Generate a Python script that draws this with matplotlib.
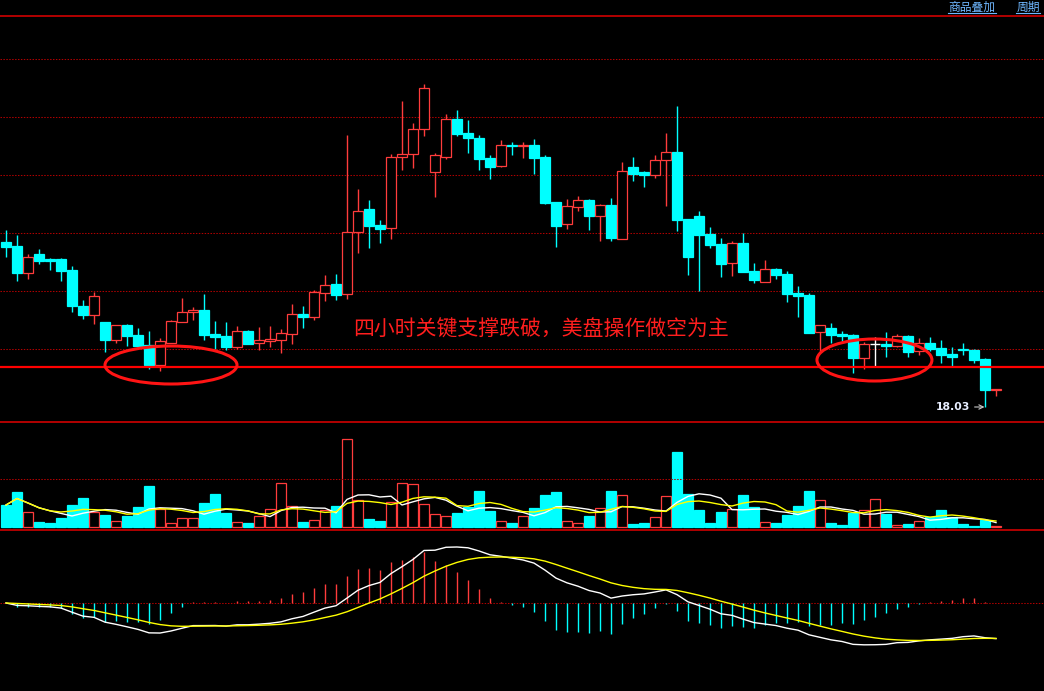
import numpy as np
import pandas as pd
import matplotlib.pyplot as plt
from matplotlib.patches import Ellipse
from matplotlib.lines import Line2D

plt.rcParams['font.family'] = ['Noto Sans CJK SC', 'DejaVu Sans']

# 4h candles
opens = [19.68, 19.64, 19.37, 19.56, 19.51, 19.51, 19.40, 19.04, 18.95, 18.88,
         18.70, 18.85, 18.75, 18.65, 18.45, 18.67, 18.88, 18.98, 19.00, 18.76,
         18.74, 18.63, 18.79, 18.67, 18.69, 18.70, 18.76, 18.96, 18.93, 19.17,
         19.26, 19.16, 19.78, 20.01, 19.85, 19.82, 20.53, 20.56, 20.81, 20.38,
         20.53, 20.91, 20.77, 20.72, 20.52, 20.44, 20.65, 20.64, 20.65, 20.53,
         20.08, 19.86, 20.03, 20.10, 19.94, 20.05, 19.71, 20.43, 20.38, 20.35,
         20.50, 20.58, 19.91, 19.94, 19.76, 19.66, 19.47, 19.67, 19.39, 19.28,
         19.41, 19.36, 19.17, 19.15, 18.78, 18.82, 18.76, 18.75, 18.52, 18.66,
         18.66, 18.64, 18.74, 18.59, 18.67, 18.62, 18.56, 18.61, 18.60, 18.51,
         18.20]
highs = [19.80, 19.75, 19.56, 19.61, 19.52, 19.52, 19.44, 19.10, 19.18, 18.88,
         18.85, 18.86, 18.82, 18.79, 18.72, 18.90, 19.12, 19.03, 19.16, 18.89,
         18.88, 18.84, 18.80, 18.83, 18.84, 18.81, 19.06, 19.04, 19.20, 19.35,
         19.36, 20.75, 20.21, 20.10, 19.90, 20.56, 21.09, 20.87, 21.26, 20.57,
         20.96, 21.00, 20.90, 20.75, 20.55, 20.70, 20.68, 20.68, 20.71, 20.55,
         20.08, 20.11, 20.14, 20.11, 20.06, 20.12, 20.48, 20.53, 20.39, 20.55,
         20.77, 21.04, 19.91, 19.99, 19.83, 19.72, 19.69, 19.77, 19.47, 19.50,
         19.42, 19.39, 19.24, 19.17, 18.85, 18.87, 18.79, 18.76, 18.68, 18.73,
         18.78, 18.76, 18.75, 18.72, 18.73, 18.70, 18.63, 18.67, 18.61, 18.52,
         18.21]
lows = [19.53, 19.29, 19.31, 19.46, 19.40, 19.29, 18.98, 18.91, 18.86, 18.58,
        18.67, 18.64, 18.62, 18.41, 18.39, 18.67, 18.88, 18.90, 18.70, 18.61,
        18.60, 18.61, 18.66, 18.60, 18.63, 18.57, 18.66, 18.82, 18.90, 19.09,
        19.10, 19.11, 19.57, 19.62, 19.67, 19.71, 20.40, 20.42, 20.74, 20.13,
        20.51, 20.74, 20.57, 20.40, 20.31, 20.43, 20.55, 20.52, 20.36, 20.06,
        19.63, 19.81, 19.99, 19.80, 19.69, 19.69, 19.71, 20.29, 20.23, 20.32,
        20.04, 19.79, 19.35, 19.19, 19.62, 19.33, 19.34, 19.38, 19.27, 19.28,
        19.31, 19.08, 18.93, 18.77, 18.59, 18.67, 18.69, 18.37, 18.41, 18.43,
        18.53, 18.63, 18.53, 18.55, 18.59, 18.47, 18.43, 18.55, 18.47, 18.03,
        18.14]
closes = [19.63, 19.37, 19.53, 19.49, 19.49, 19.39, 19.04, 18.95, 19.14, 18.70,
          18.85, 18.74, 18.64, 18.45, 18.69, 18.89, 18.98, 19.00, 18.75, 18.73,
          18.63, 18.79, 18.66, 18.70, 18.71, 18.77, 18.96, 18.93, 19.18, 19.25,
          19.15, 19.78, 19.99, 19.84, 19.81, 20.53, 20.56, 20.81, 21.22, 20.55,
          20.91, 20.76, 20.72, 20.51, 20.43, 20.65, 20.64, 20.65, 20.52, 20.07,
          19.84, 20.04, 20.10, 19.94, 20.05, 19.72, 20.39, 20.36, 20.35, 20.50,
          20.58, 19.90, 19.53, 19.75, 19.65, 19.46, 19.67, 19.38, 19.30, 19.41,
          19.35, 19.16, 19.14, 18.77, 18.85, 18.75, 18.74, 18.52, 18.66, 18.66,
          18.64, 18.74, 18.58, 18.67, 18.61, 18.55, 18.53, 18.60, 18.50, 18.20,
          18.21]
volumes = [22, 35, 15, 5, 4, 9, 22, 29, 15, 12,
           6, 11, 20, 41, 18, 4, 9, 9, 24, 33,
           14, 5, 4, 11, 18, 44, 21, 5, 7, 17,
           21, 88, 27, 8, 6, 25, 44, 43, 23, 13,
           11, 14, 20, 36, 16, 6, 4, 11, 19, 32,
           35, 6, 4, 11, 19, 36, 32, 3, 4, 10,
           31, 75, 33, 17, 4, 15, 18, 32, 20, 5,
           4, 12, 21, 36, 27, 4, 2, 14, 17, 28,
           13, 2, 3, 6, 10, 17, 10, 3, 1, 7,
           1]

support = 18.43
grid_levels = [21.51, 20.93, 20.35, 19.77, 19.19, 18.61]
note = "四小时关键支撑跌破，美盘操作做空为主"

UP = '#ff3c3c'
DOWN = '#00ffff'
GRID = '#b00000'
DOTS = (0, (1.4, 1.4))
SEP = '#d00000'

df = pd.DataFrame({"open": opens, "high": highs, "low": lows, "close": closes, "vol": volumes})
x = np.arange(len(df))
up = df["close"] > df["open"]
flat = df["close"] == df["open"]
colors = np.where(flat, 'white', np.where(up, UP, DOWN))

fig = plt.figure(figsize=(10.44, 6.91), dpi=100, facecolor='black')
ax = fig.add_axes([0, 1 - 422 / 691, 1, 406 / 691])
axv = fig.add_axes([0, 1 - 530 / 691, 1, 108 / 691])
axm = fig.add_axes([0, 0, 1, 161 / 691])

for a in (ax, axv, axm):
    a.set_facecolor('black')
    a.set_xlim(-6 / 11, 1038 / 11)
    a.set_xticks([])
    a.tick_params(left=False, labelleft=False)
    for s in ('left', 'right', 'bottom'):
        a.spines[s].set_visible(False)
    a.spines['top'].set_color(SEP)
    a.spines['top'].set_linewidth(1.2)

# price panel
ax.set_ylim(17.88, 21.94)
ax.set_yticks(grid_levels)
ax.grid(axis='y', color=GRID, linestyle=DOTS, linewidth=0.75)
ax.vlines(x, df["low"], df["high"], colors=colors, linewidth=1, zorder=2)
body_lo = np.minimum(df["open"], df["close"])
body_h = (df["close"] - df["open"]).abs()
m = ~flat
ax.bar(x[m], body_h[m], bottom=body_lo[m], width=0.82,
       color=np.where(up[m], 'black', DOWN), edgecolor=colors[m], linewidth=0.9, zorder=3)
ax.hlines(df["open"][flat], x[flat] - 0.41, x[flat] + 0.41, colors=colors[flat], linewidth=1, zorder=3)

ax.axhline(support, color='#ff0000', linewidth=1.6, zorder=4)
ax.add_patch(Ellipse((15.0, support + 0.02), 12.0, 0.38, fill=False, edgecolor='#ff1414', linewidth=2.2, zorder=5))
ax.add_patch(Ellipse((78.95, support + 0.07), 10.45, 0.42, fill=False, edgecolor='#ff1414', linewidth=2.2, zorder=5))
ax.text(31.6, 18.80, note, color='#ff1e1e', fontsize=15, va='center', ha='left')

lo_i = int(np.argmin(df["low"]))
ax.annotate(f'{df["low"][lo_i]:.2f}', xy=(lo_i - 0.05, df["low"][lo_i]), xytext=(-14, 0),
            textcoords='offset pixels', ha='right', va='center', color='#e8eeff',
            fontsize=7.8, fontweight='bold', family='DejaVu Sans',
            arrowprops=dict(arrowstyle='->', color='#c8c8c8', lw=0.8, shrinkA=1, shrinkB=0))

# volume panel
axv.set_ylim(-3, 105)
axv.set_yticks([48])
axv.grid(axis='y', color=GRID, linestyle=DOTS, linewidth=0.75)
vol_up = (df["close"] >= df["open"]).to_numpy()
axv.bar(x, df["vol"], width=0.82, color=np.where(vol_up, 'black', DOWN),
        edgecolor=np.where(vol_up, UP, DOWN), linewidth=0.9)
axv.plot(x, df["vol"].rolling(5, min_periods=1).mean(), color='white', linewidth=1)
axv.plot(x, df["vol"].rolling(10, min_periods=1).mean(), color='#ffff00', linewidth=1)

# macd panel
ema12 = df["close"].ewm(span=12, adjust=False).mean()
ema26 = df["close"].ewm(span=26, adjust=False).mean()
dif = ema12 - ema26
dea = dif.ewm(span=9, adjust=False).mean()
hist = 2 * (dif - dea)
k = dif.max() / 56
axm.set_ylim(-88 * k, 73 * k)
axm.axhline(0, color=GRID, linestyle=DOTS, linewidth=0.75)
axm.vlines(x, 0, hist, colors=np.where(hist >= 0, UP, DOWN), linewidth=1)
axm.plot(x, dif, color='white', linewidth=1)
axm.plot(x, dea, color='#ffff00', linewidth=1)

# top menu
for label, cx in (("商品叠加", 972), ("周期", 1028)):
    fig.text(cx / 1044, 1 - 7 / 691, label, color='#6fb7ff', fontsize=8.5, ha='center', va='center')
    w = 12 * len(label)
    fig.add_artist(Line2D([(cx - w / 2) / 1044, (cx + w / 2) / 1044], [1 - 13 / 691] * 2,
                          color='#6fb7ff', linewidth=0.8))

fig.savefig('out.png', dpi=100, facecolor='black')
